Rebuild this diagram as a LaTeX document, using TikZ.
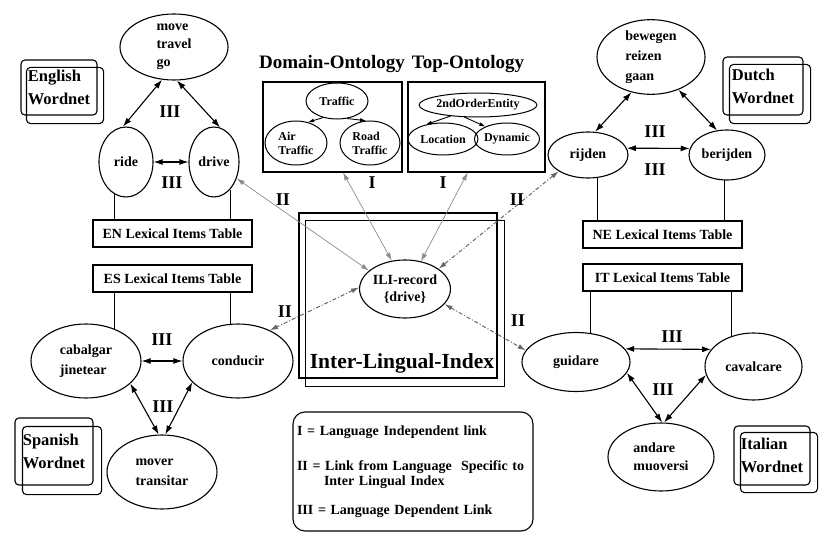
\documentclass[tikz,border=0pt]{standalone}
\usepackage{fontspec}
\setmainfont{Liberation Serif}
\usetikzlibrary{arrows.meta,shapes.geometric,positioning}

\tikzset{
  syn/.style={ellipse,draw,line width=1.1pt,inner sep=0pt,font=\fontsize{14}{20}\selectfont\bfseries},
  onto/.style={ellipse,draw,line width=1pt,inner sep=0pt,font=\fontsize{12}{14}\selectfont\bfseries},
  ontobox/.style={draw,line width=1.1pt,inner sep=0pt,minimum height=90pt},
  title/.style={font=\fontsize{19}{20}\selectfont\bfseries},
  lexbox/.style={draw,line width=1.1pt,minimum width=159pt,minimum height=27pt,inner sep=0pt,font=\fontsize{14}{16}\selectfont\bfseries},
  wnbox/.style={draw,line width=1.1pt,rounded corners=4pt,inner sep=0pt,align=left,font=\fontsize{16.5}{23}\selectfont\bfseries},
  rel/.style={font=\fontsize{18}{20}\selectfont\bfseries},
  tie/.style={line width=0.9pt},
  dep/.style={{Latex[length=9pt,width=6pt]}-{Latex[length=9pt,width=6pt]},line width=1.1pt},
  ilink/.style={{Latex[length=8pt,width=5pt]}-{Latex[length=8pt,width=5pt]},black!45,line width=0.7pt},
  iilink/.style={{Latex[length=8pt,width=5pt]}-{Latex[length=8pt,width=5pt]},black!60,line width=1pt,dash pattern=on 4pt off 2pt on 1pt off 2pt},
  isa/.style={-{Latex[length=6pt,width=4pt]},line width=0.9pt},
}

\begin{document}
\begin{tikzpicture}[x=1pt,y=-1pt]
\useasboundingbox (0,0) rectangle (820,535);

% English wordnet
\node[syn,minimum width=108pt,minimum height=66pt,align=left] (move) at (174,47) {move\\[-2pt]travel\\[-2pt]go};
\node[wnbox,minimum width=76pt,minimum height=55pt] (enwn) at (59,87.5) {English\\Wordnet};
\draw[line width=1.1pt,rounded corners=4pt] ([xshift=6pt,yshift=-8pt]enwn.north west) rectangle ([xshift=6pt,yshift=-8pt]enwn.south east);
\node[syn,minimum width=54pt,minimum height=70pt] (ride) at (126,162) {ride};
\node[syn,minimum width=50pt,minimum height=70pt] (drive) at (214,162) {drive};
\node[lexbox] (enlex) at (172.5,233.5) {EN Lexical Items Table};
\node[rel] (ren1) at (170,112) {III};
\node[rel] (ren2) at (172,183) {III};

% Spanish wordnet
\node[lexbox] (eslex) at (172.5,278.5) {ES Lexical Items Table};
\node[syn,minimum width=110pt,minimum height=74pt,align=left] (cabalgar) at (86,361) {cabalgar\\jinetear};
\node[syn,minimum width=110pt,minimum height=74pt] (conducir) at (238,361) {conducir};
\node[syn,minimum width=110pt,minimum height=74pt,align=left] (mover) at (162,472) {mover\\transitar};
\node[wnbox,minimum width=78pt,minimum height=67pt] (eswn) at (54,451.5) {Spanish\\Wordnet};
\draw[line width=1.1pt,rounded corners=4pt] ([xshift=8pt,yshift=-9pt]eswn.north west) rectangle ([xshift=8pt,yshift=-9pt]eswn.south east);
\node[rel] (res1) at (162,340) {III};
\node[rel] (res2) at (163,407) {III};

% ontologies
\node[ontobox,minimum width=139pt] (domain) at (332.5,127) {};
\node[title] (domtitle) at (332,64) {Domain-Ontology};
\node[onto,minimum width=62pt,minimum height=36pt] (traffic) at (337,101) {Traffic};
\node[onto,minimum width=62pt,minimum height=44pt,align=left] (air) at (296,143) {Air\\Traffic};
\node[onto,minimum width=60pt,minimum height=44pt,align=left] (road) at (370,143) {Road\\Traffic};
\node[ontobox,minimum width=137pt] (top) at (476.5,127) {};
\node[title] (toptitle) at (468,64) {Top-Ontology};
\node[onto,minimum width=106pt,minimum height=24pt] (soe) at (478,105) {2ndOrderEntity};
\node[onto,minimum width=70pt,minimum height=32pt] (location) at (443,139) {Location};
\node[onto,minimum width=60pt,minimum height=32pt] (dynamic) at (507,139) {Dynamic};
\draw[isa] (traffic.230) -- (air.60);
\draw[isa] (traffic.300) -- (road.100);
\draw[isa] (soe.202) -- (location.140);
\draw[isa] (soe.222) -- (dynamic.150);

% inter-lingual-index
\node[draw,line width=1.1pt,minimum width=198pt,minimum height=165pt,inner sep=0pt] (ilibox) at (398,295.5) {};
\draw[line width=1.1pt] ([xshift=7pt,yshift=-8pt]ilibox.north west) rectangle ([xshift=7pt,yshift=-8pt]ilibox.south east);
\node[syn,minimum width=90pt,minimum height=58pt,align=center,font=\fontsize{14}{17}\selectfont\bfseries] (ili) at (405,289) {ILI-record\\\{drive\}};
\node[font=\fontsize{21.5}{24}\selectfont\bfseries] (ilititle) at (402,363) {Inter-Lingual-Index};

% Dutch wordnet
\node[syn,minimum width=108pt,minimum height=74pt,align=left] (bewegen) at (651,57) {bewegen\\reizen\\gaan};
\node[wnbox,minimum width=80pt,minimum height=58pt] (nlwn) at (763,86) {Dutch\\Wordnet};
\draw[line width=1.1pt,rounded corners=4pt] ([xshift=7pt,yshift=-8pt]nlwn.north west) rectangle ([xshift=7pt,yshift=-8pt]nlwn.south east);
\node[syn,minimum width=80pt,minimum height=46pt] (rijden) at (588,155) {rijden};
\node[syn,minimum width=76pt,minimum height=50pt] (berijden) at (727,155) {berijden};
\node[lexbox] (nelex) at (662.5,234.5) {NE Lexical Items Table};
\node[rel] (rnl1) at (655,132) {III};
\node[rel] (rnl2) at (655,170) {III};

% Italian wordnet
\node[lexbox] (itlex) at (662.5,277.5) {IT Lexical Items Table};
\node[syn,minimum width=108pt,minimum height=59pt] (guidare) at (576,362) {guidare};
\node[syn,minimum width=97pt,minimum height=67pt] (cavalcare) at (753.5,366.5) {cavalcare};
\node[syn,minimum width=106pt,minimum height=68pt,align=left] (andare) at (661,457) {andare\\[-2pt]muoversi};
\node[wnbox,minimum width=76pt,minimum height=59pt] (itwn) at (772,455.5) {Italian\\Wordnet};
\draw[line width=1.1pt,rounded corners=4pt] ([xshift=7pt,yshift=-7pt]itwn.north west) rectangle ([xshift=7pt,yshift=-7pt]itwn.south east);
\node[rel] (rit1) at (672,337) {III};
\node[rel] (rit2) at (663,390) {III};

% lexical items tables
\draw[tie] (ride.250) -- (ride.250 |- enlex.north);
\draw[tie] (drive.300) -- (drive.300 |- enlex.north);
\draw[tie] (cabalgar.49) -- (cabalgar.49 |- eslex.south);
\draw[tie] (conducir.102) -- (conducir.102 |- eslex.south);
\draw[tie] (rijden.292) -- (rijden.292 |- nelex.north);
\draw[tie] (berijden.264) -- (berijden.264 |- nelex.north);
\draw[tie] (guidare.64) -- (guidare.64 |- itlex.south);
\draw[tie] (cavalcare.126) -- (cavalcare.126 |- itlex.south);

% language dependent links
\draw[dep] (move.250) -- (ride.95);
\draw[dep] (move.275) -- (drive.80);
\draw[dep] (ride) -- (drive);
\draw[dep] (cabalgar) -- (conducir);
\draw[dep] (cabalgar.333) -- (mover.95);
\draw[dep] (conducir.205) -- (mover.85);
\draw[dep] (bewegen.241) -- (rijden.73);
\draw[dep] (bewegen.310) -- (berijden.112);
\draw[dep] (rijden.10) -- (berijden.170);
\draw[dep] (guidare.15) -- (cavalcare.158);
\draw[dep] (guidare.348) -- (andare.88);
\draw[dep] (cavalcare.190) -- (andare.85);

% links to the index
\draw[ilink] (drive.324) -- (ili.153);
\draw[ilink] (domain.283) -- (ili.115);
\draw[ilink] (top.259) -- (ili.60);
\draw[iilink] (rijden.209) -- (ili.31);
\draw[iilink] (ili.178) -- (conducir.44);
\draw[iilink] (ili.339) -- (guidare.167);
\node[rel] (ri1) at (372,183) {I};
\node[rel] (ri2) at (443,183) {I};
\node[rel] (rii1) at (283,200) {II};
\node[rel] (rii2) at (517,200) {II};
\node[rel] (rii3) at (285,312) {II};
\node[rel] (rii4) at (518,321) {II};

% legend
\node[draw,line width=1.1pt,rounded corners=12pt,minimum width=240pt,minimum height=119pt,text width=232pt,inner sep=4pt,align=left,font=\fontsize{14}{15}\selectfont\bfseries] (legend) at (413,471.5) {I = Language Independent link\\[20pt]II = Link from Language\ \ Specific to\\\hspace*{27pt}Inter Lingual Index\\[14pt]III = Language Dependent Link};
\end{tikzpicture}
\end{document}
